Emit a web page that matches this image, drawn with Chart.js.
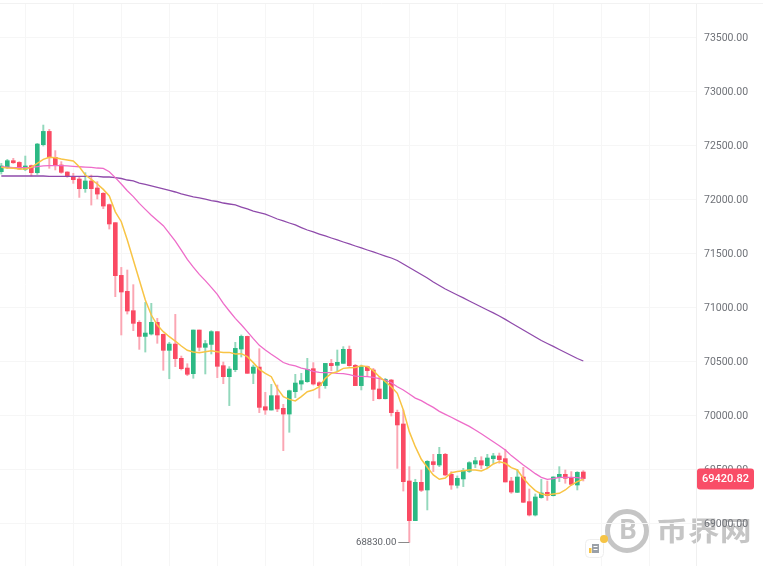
<!DOCTYPE html>
<html lang="zh">
<head>
<meta charset="UTF-8">
<title>BTC candles</title>
<script src="https://cdn.jsdelivr.net/npm/chart.js@4"></script>
<style>
  html, body { margin: 0; padding: 0; background: #fff; }
  canvas { display: block; }
</style>
</head>
<body>
<canvas id="chart" width="763" height="566"></canvas>
<script>
// ---------- Values ----------

const opens = [
  72262,72299,72364,72348,72284,72318,72253,72512,72635,72395,
  72324,72259,72216,72194,72105,72176,72111,72062,71957,71790,
  71302,71154,70975,70867,70737,70759,70867,70756,70608,70666,
  70534,70444,70392,70796,70636,70663,70781,70466,70364,70429,
  70620,70737,70395,70453,70086,70055,70188,70071,70018,70225,
  70296,70318,70438,70308,70281,70487,70469,70487,70617,70469,
  70281,70457,70426,70250,70160,70333,70034,69926,69398,69031,
  69386,69315,69577,69546,69645,69460,69358,69417,69488,69556,
  69586,69540,69605,69630,69605,69398,69293,69435,69207,69083,
  69244,69293,69262,69432,69460,69429,69361,69481,
];
const closes = [
  72315,72364,72345,72287,72315,72253,72518,72635,72395,72324,
  72256,72216,72188,72105,72176,72105,72055,71944,71778,71299,
  71148,70972,70858,70737,70768,70867,70750,70608,70666,70531,
  70438,70386,70796,70636,70670,70781,70460,70364,70435,70626,
  70737,70395,70453,70080,70055,70188,70065,70018,70234,70305,
  70327,70432,70296,70281,70487,70466,70497,70617,70466,70281,
  70457,70420,70247,70160,70339,70031,69917,69392,69031,69386,
  69312,69580,69550,69645,69454,69361,69423,69494,69568,69586,
  69546,69611,69630,69596,69389,69296,69435,69201,69083,69250,
  69287,69262,69435,69460,69423,69367,69478,69420.82,
];
const highs = [
  72339,72376,72386,72355,72407,72324,72524,72694,72654,72457,
  72355,72262,72247,72216,72253,72231,72170,72068,71963,71790,
  71376,71352,71216,70882,71052,71043,70904,70759,70682,70941,
  70555,70484,70796,70796,70700,70790,70781,70500,70457,70682,
  70750,70740,70472,70623,70219,70293,70287,70108,70240,70386,
  70395,70534,70494,70318,70487,70524,70611,70642,70648,70478,
  70472,70463,70441,70364,70349,70339,70055,70055,69531,69414,
  69500,69587,69645,69710,69654,69485,69445,69515,69577,69617,
  69623,69645,69654,69657,69691,69432,69506,69525,69324,69278,
  69414,69398,69438,69531,69500,69485,69485,69494,
];
const lows = [
  72240,72290,72339,72284,72271,72222,72237,72500,72293,72278,
  72247,72210,72154,72024,72071,71953,72009,71920,71731,71105,
  70750,70944,70790,70617,70592,70750,70673,70423,70345,70457,
  70426,70373,70349,70602,70389,70574,70355,70299,70096,70410,
  70546,70395,70299,70031,70015,70055,70040,69679,69849,70170,
  70241,70311,70287,70166,70256,70420,70410,70487,70460,70281,
  70241,70364,70142,70157,70157,70000,69515,69305,68830,69031,
  69300,69130,69485,69531,69445,69321,69333,69346,69478,69522,
  69512,69522,69562,69562,69389,69284,69290,69198,69074,69074,
  69238,69219,69259,69392,69377,69355,69315,69398,
];
const maFast = [
  72302,72296,72293,72287,72287,72302,72339,72376,72395,72392,
  72379,72370,72361,72308,72231,72191,72148,72098,72037,71890,
  71799,71629,71444,71259,71074,70935,70842,70781,70734,70694,
  70648,70608,70592,70586,70595,70605,70595,70589,70589,70574,
  70577,70549,70494,70432,70395,70364,70256,70179,70154,70139,
  70179,70225,70240,70271,70349,70395,70410,70441,70447,70450,
  70466,70457,70420,70364,70318,70271,70210,70055,69855,69716,
  69599,69525,69454,69414,69426,69475,69485,69494,69500,69500,
  69491,69515,69556,69577,69562,69522,69500,69423,69361,69309,
  69278,69269,69278,69284,69315,69361,69392,69414,
];
const maMid = [
  72308,72305,72299,72299,72299,72302,72308,72315,72318,72318,
  72318,72315,72311,72308,72305,72302,72296,72293,72262,72207,
  72148,72086,72031,71969,71913,71858,71810,71762,71691,71620,
  71535,71450,71378,71311,71253,71191,71126,71043,70972,70904,
  70845,70781,70716,70654,70611,70571,70534,70495,70475,70463,
  70444,70432,70413,70404,70401,70401,70395,70392,70382,70370,
  70367,70364,70358,70345,70333,70308,70271,70241,70203,70166,
  70142,70110,70080,70043,70015,69988,69960,69932,69904,69870,
  69836,69799,69762,69725,69685,69633,69590,69546,69506,69466,
  69432,69414,69420,69432,69432,69432,69429,69423,
];
const maSlow = [
  72222,72222,72222,72222,72222,72222,72222,72222,72218,72218,
  72218,72218,72218,72218,72218,72218,72218,72213,72213,72208,
  72199,72185,72176,72157,72144,72130,72116,72102,72088,72074,
  72056,72042,72028,72019,72009,71995,71986,71972,71963,71954,
  71935,71917,71898,71884,71870,71847,71824,71806,71787,71769,
  71745,71722,71704,71685,71667,71648,71630,71611,71593,71574,
  71556,71537,71519,71500,71481,71463,71440,71407,71375,71343,
  71310,71278,71241,71208,71176,71148,71120,71093,71065,71037,
  71009,70981,70954,70926,70894,70861,70829,70796,70764,70731,
  70699,70671,70644,70616,70588,70560,70532,70509,
];
const candleIndex = opens.map((_, i) => i);
const yTicks = [69000, 69500, 70000, 70500, 71000, 71500, 72000, 72500, 73000, 73500];
const xGridIndex = [4, 12, 20, 28, 36, 44, 52, 60, 68, 76, 84, 92, 100, 108];
const lastPrice = 69420.82;
const lowPrice = 68830;
const lowIndex = 68;

// ---------- Colours ----------

const UP = '#2cb984', UP_WICK = '#93d8bc';
const DOWN = '#fa4a63', DOWN_WICK = '#fba6b3';
const GRID = '#f6f6f6';
const LABEL = '#6f7278';
const MARK_GREY = 'rgba(178,178,178,0.75)';
const FONT = 'Roboto, "Noto Sans", sans-serif';

const isUp = i => closes[i] >= opens[i];

function lineSet(data, color, width) {
  return {
    type: 'line', data, order: 0,
    borderColor: color, borderWidth: width,
    pointRadius: 0, tension: 0,
  };
}

// Watermark sits under the axis labels, the rest goes on top of the chart
const overlay = {
  id: 'overlay',
  beforeDraw(chart) {
    const { ctx } = chart;
    ctx.save();
    ctx.strokeStyle = MARK_GREY;
    ctx.fillStyle = MARK_GREY;
    ctx.lineWidth = 5;
    ctx.beginPath(); ctx.arc(627, 531, 19.5, 0, Math.PI * 2); ctx.stroke();
    ctx.font = 'bold 27px ' + FONT;
    ctx.textAlign = 'center'; ctx.textBaseline = 'middle';
    ctx.fillText('B', 628, 532);
    ctx.font = 'bold 27px "Noto Sans CJK SC"';
    ctx.textAlign = 'left';
    ctx.translate(656, 531);
    ctx.scale(1.18, 1);
    ctx.fillText('币界网', 0, 0);
    ctx.restore();
  },
  afterDraw(chart) {
    const { ctx, scales: { x, y } } = chart;
    ctx.save();

    // top rule across the whole page
    ctx.strokeStyle = '#f2f2f2';
    ctx.lineWidth = 1;
    ctx.beginPath(); ctx.moveTo(0, 3.5); ctx.lineTo(763, 3.5); ctx.stroke();

    // low marker
    const lowY = Math.round(y.getPixelForValue(lowPrice)) + 0.5;
    const lowX = x.getPixelForValue(lowIndex);
    ctx.strokeStyle = '#8a8a8a';
    ctx.beginPath(); ctx.moveTo(lowX - 11, lowY); ctx.lineTo(lowX, lowY); ctx.stroke();
    ctx.fillStyle = '#5f6268';
    ctx.font = '9.6px ' + FONT;
    ctx.textAlign = 'right'; ctx.textBaseline = 'middle';
    ctx.fillText(lowPrice.toFixed(2), lowX - 13, lowY + 0.5);

    // note icon
    ctx.fillStyle = '#fff';
    ctx.strokeStyle = '#eeeeee';
    ctx.lineWidth = 1;
    ctx.beginPath(); ctx.roundRect(585.5, 539.5, 18, 18, 4); ctx.fill(); ctx.stroke();
    ctx.fillStyle = '#9aa0a8';
    ctx.fillRect(592, 544, 7, 9);
    ctx.fillStyle = '#fff';
    ctx.fillRect(593.5, 546, 4, 1);
    ctx.fillRect(593.5, 549, 4, 1);
    ctx.fillStyle = '#f6c445';
    ctx.fillRect(589, 548, 2.5, 5);
    ctx.beginPath(); ctx.arc(604, 539, 4, 0, Math.PI * 2); ctx.fill();

    // last price badge
    const lastY = y.getPixelForValue(lastPrice);
    ctx.fillStyle = '#f94d67';
    ctx.beginPath(); ctx.roundRect(697, lastY - 10, 57, 21, 3); ctx.fill();
    ctx.fillStyle = '#fff';
    ctx.font = '500 11px ' + FONT;
    ctx.textAlign = 'center';
    ctx.fillText(lastPrice.toFixed(2), 725.5, lastY + 1);

    ctx.restore();
  },
};

new Chart(document.getElementById('chart'), {
  data: {
    labels: candleIndex,
    datasets: [
      lineSet(maFast, '#f8c445', 1.5),
      lineSet(maMid, '#ee6cc9', 1.3),
      lineSet(maSlow, '#8f4bab', 1.3),
      {
        type: 'bar', order: 1, grouped: false, barThickness: 4,
        data: candleIndex.map(i => [opens[i], closes[i]]),
        backgroundColor: candleIndex.map(i => isUp(i) ? UP : DOWN),
      },
      {
        type: 'bar', order: 2, grouped: false, barThickness: 1.3,
        data: candleIndex.map(i => [lows[i], highs[i]]),
        backgroundColor: candleIndex.map(i => isUp(i) ? UP_WICK : DOWN_WICK),
      },
    ],
  },
  options: {
    responsive: false,
    animation: false,
    layout: { padding: { top: 3 } },
    plugins: { legend: { display: false }, tooltip: { enabled: false } },
    scales: {
      x: {
        type: 'linear',
        offset: false,
        min: -0.217, max: 115.78,
        afterBuildTicks: s => { s.ticks = xGridIndex.map(value => ({ value })); },
        ticks: { display: false },
        border: { display: false },
        grid: { color: GRID, drawTicks: false, offset: false },
      },
      y: {
        position: 'right',
        min: 68611, max: 73824,
        afterBuildTicks: s => { s.ticks = yTicks.map(value => ({ value })); },
        afterFit: s => { s.width = 67; s.paddingTop = 0; s.paddingBottom = 0; },
        ticks: {
          color: LABEL, padding: 8, crossAlign: 'near',
          font: { family: FONT, size: 10.5 },
          callback: v => v.toFixed(2),
        },
        border: { color: '#f0f0f0' },
        grid: { color: GRID, drawTicks: false },
      },
    },
  },
  plugins: [overlay],
});
</script>
</body>
</html>
